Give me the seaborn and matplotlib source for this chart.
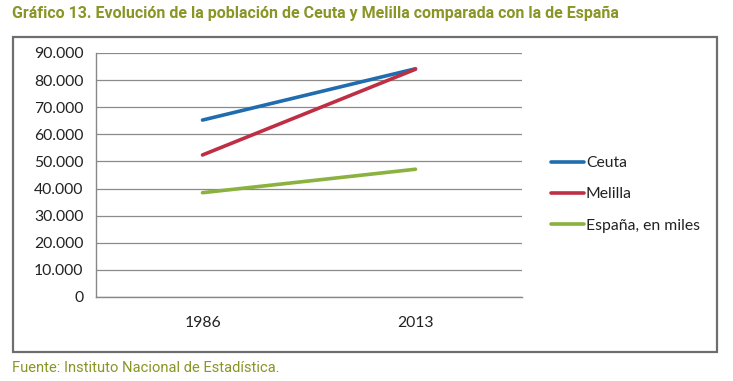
import matplotlib
matplotlib.use("Agg")
import matplotlib.pyplot as plt
import matplotlib.patches as mpatches
from matplotlib.lines import Line2D
import seaborn as sns
import pandas as pd
import numpy as np

years = ["1986", "2013"]
ceuta = [65264, 84180]
melilla = [52388, 84018]
espana = [38470, 47130]
series_names = ["Ceuta", "Melilla", "España, en miles"]
colors = ["#1F6DAE", "#BE2F45", "#8BB13F"]
yticks = [0, 10000, 20000, 30000, 40000, 50000, 60000, 70000, 80000, 90000]

rows = []
for name, vals in zip(series_names, [ceuta, melilla, espana]):
    for i, (y, v) in enumerate(zip(years, vals)):
        rows.append({"pos": i, "year": y, "serie": name, "valor": v})
df = pd.DataFrame(rows)

sns.set_style("white")
plt.rcParams["font.family"] = ["Lato", "DejaVu Sans"]

fig = plt.figure(figsize=(7.33, 3.81), dpi=100)
ax = fig.add_axes([96/733, 1-297/381, (522-96)/733, (297-53)/381])

sns.lineplot(data=df, x="pos", y="valor", hue="serie", palette=colors,
             hue_order=series_names, linewidth=2.6, ax=ax, legend=False)

ax.set_xlim(-0.5, 1.5)
ax.set_ylim(0, 90000)
ax.set_yticks(yticks)
ax.set_yticklabels([f"{v:,}".replace(",", ".") for v in yticks])
ax.set_xticks([0, 1])
ax.set_xticklabels(years)
ax.set_xticks([-0.5, 0.5, 1.5], minor=True)
ax.tick_params(axis="x", which="major", length=0, pad=14, labelsize=11.3, labelcolor="#222222")
ax.tick_params(axis="x", which="minor", length=5, color="#888888", width=1)
ax.tick_params(axis="y", length=5, color="#888888", width=1, pad=4, labelsize=11.3, labelcolor="#222222")
ax.set_xlabel("")
ax.set_ylabel("")
ax.grid(axis="y", color="#8a8a8a", linewidth=0.9)
ax.set_axisbelow(True)
for s in ["top", "right"]:
    ax.spines[s].set_visible(False)
for s in ["left", "bottom"]:
    ax.spines[s].set_color("#888888")
    ax.spines[s].set_linewidth(1)

handles = [Line2D([0], [0], color=c, linewidth=2.6) for c in colors]
fig.legend(handles, series_names, loc="upper left", bbox_to_anchor=(537/733, 1-142/381),
           frameon=False, fontsize=11.3, handlelength=2.1, handletextpad=0.12,
           labelspacing=1.1, labelcolor="#222222")

rect = mpatches.Rectangle((13/733, 1-352/381), (717-13)/733, (352-37)/381,
                          transform=fig.transFigure, fill=False,
                          edgecolor="#6e6e6e", linewidth=1.6)
fig.patches.append(rect)

olive = "#8A9526"
title = fig.text(12/733, 1-13/381, "Gráfico 13. Evolución de la población de Ceuta y Melilla comparada con la de España",
                 fontsize=11.5, fontweight="bold", color=olive, va="center", ha="left",
                 family=["Roboto", "DejaVu Sans"])
source = fig.text(12/733, 1-368/381, "Fuente: Instituto Nacional de Estadística.",
                  fontsize=10.5, color=olive, va="center", ha="left",
                  family=["Roboto", "DejaVu Sans"])

renderer = fig.canvas.get_renderer()
for t, target in [(title, 610), (source, 268)]:
    w = t.get_window_extent(renderer).width
    t.set_fontsize(t.get_fontsize() * target / w)

fig.savefig("out.png", dpi=100)
